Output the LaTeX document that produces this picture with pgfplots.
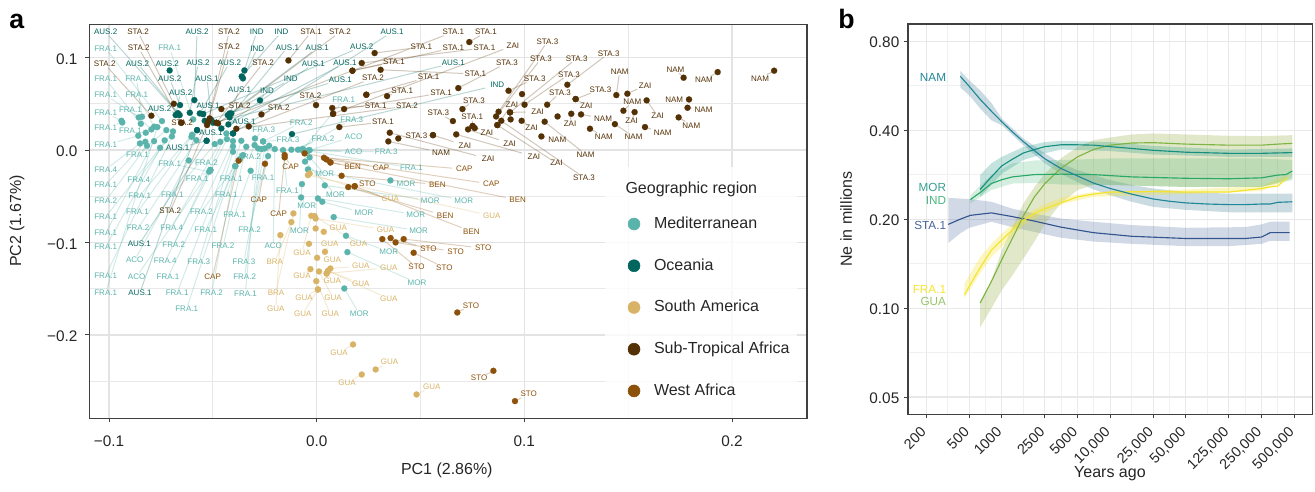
\documentclass[border=0pt]{standalone}
\usepackage{pgfplots}
\usepackage{pgfplotstable}
\usepackage{fontspec}
\setmainfont{Liberation Sans}
\pgfplotsset{compat=1.18}
\definecolor{cMed}{HTML}{5AB4AC}
\definecolor{cOce}{HTML}{01665E}
\definecolor{cSA}{HTML}{D8B365}
\definecolor{cSub}{HTML}{543005}
\definecolor{cWest}{HTML}{8C510A}
\definecolor{cNAM}{HTML}{1F8798}
\definecolor{cNAMb}{HTML}{5E8FA6}
\definecolor{cMOR}{HTML}{158F7E}
\definecolor{cIND}{HTML}{2AA866}
\definecolor{cGUA}{HTML}{7DB544}
\definecolor{cGUAb}{HTML}{9DB34F}
\definecolor{cFRA}{HTML}{F5E42F}
\definecolor{cSTA}{HTML}{33548F}
\definecolor{spine}{HTML}{404040}

\pgfplotstableread{
x y lx ly name
-.0745 .0314 -.1016 .1100 FRA.1
-.0847 .0285 -.1016 .0768 FRA.1
-.0857 .0354 -.1016 .0595 FRA.1
-.0940 .0317 -.1016 .0404 FRA.1
-.0936 .0299 -.1016 .0238 FRA.1
-.0859 .0155 -.1016 .0054 FRA.1
-.0851 .0072 -.1016 -.0209 FRA.4
-.0825 .0090 -.1016 -.0375 FRA.1
-.0817 .0047 -.1016 -.0548 FRA.2
-.0754 .0025 -.1016 -.0722 FRA.1
-.0783 .0097 -.1016 -.0898 FRA.1
-.0732 .0105 -.1016 -.1050 FRA.1
-.0697 .0148 -.1016 -.1360 FRA.1
-.0767 .0249 -.1016 -.1540 FRA.1
-.0841 .0361 -.0867 .0768 FRA.1
-.0783 .0253 -.0866 .0599 FRA.1
-.0796 .0224 -.0897 .0437 FRA.1
-.0823 .0188 -.0897 .0206 FRA.1
-.0724 .0216 -.0863 -.0047 FRA.1
-.0692 .0202 -.0857 -.0317 FRA.4
-.0600 .0166 -.0852 -.0491 FRA.1
-.0603 .0144 -.0863 -.0671 FRA.1
-.0579 .0108 -.0860 -.0844 FRA.2
-.0616 -.0112 -.0876 -.1190 ACO
-.0512 -.0216 -.0867 -.1367 ACO
-.0595 .0332 -.0708 .1104 FRA.1
-.0518 -.0234 -.0708 -.0144 FRA.1
-.0491 .0065 -.0695 -.0487 FRA.1
-.0464 .0090 -.0698 -.0837 FRA.4
-.0435 .0180 -.0688 -.1025 FRA.2
-.0432 .0119 -.0729 -.1198 FRA.4
-.0403 .0097 -.0716 -.1374 FRA.1
-.0403 .0040 -.0672 -.1544 FRA.1
-.0363 .0101 -.0626 -.1717 FRA.1
-.0403 -.0018 -.0568 -.1205 FRA.3
-.0355 -.0054 -.0555 -.0667 FRA.2
-.0371 -.0101 -.0534 -.0862 FRA.1
-.0512 -.0216 -.0531 -.0137 FRA.2
-.0392 -.0173 -.0506 -.1544 FRA.2
-.0512 -.0216 -.0575 -.0307 FRA.1
-.0392 -.0173 -.0411 -.0307 FRA.1
-.0371 -.0101 -.0435 -.0487 FRA.1
-.0339 .0036 -.0451 -.1039 FRA.2
-.0318 -.0224 -.0395 -.0696 FRA.1
-.0234 -.0065 -.0258 -.0303 FRA.1
-.0299 .0054 -.0323 -.0072 FRA.2
-.0282 .0018 -.0343 -.1551 FRA.1
-.0266 .0011 -.0347 -.1374 FRA.2
-.0250 .0018 -.0350 -.1205 FRA.3
-.0229 .0047 -.0323 -.0862 FRA.2
-.0202 .0011 -.0209 -.1035 ACO
-.0162 .0000 -.0141 -.0437 FRA.1
-.0297 .0126 -.0255 .0224 FRA.3
-.0258 .0094 -.0138 .0112 FRA.3
-.0258 .0094 -.0074 .0296 FRA.2
-.0122 .0004 .0030 .0123 FRA.2
-.0090 .0004 .0169 .0328 FRA.3
-.0066 .0011 .0130 .0545 FRA.1
-.0042 -.0007 .0178 .0148 ACO
-.0034 .0000 .0178 -.0022 ACO
-.0074 .0004 .0335 -.0022 FRA.3
-.0042 -.0007 .0456 -.0191 FRA.1
-.0034 -.0079 .0039 -.0260 MOR
-.0056 -.0124 .0091 -.0483 MOR
-.0075 -.0512 -.0048 -.0606 MOR
-.0071 -.0368 -.0083 -.0869 MOR
.0027 -.0559 .0228 -.0678 MOR
.0355 -.0328 .0430 -.0368 MOR
.0039 -.0382 .0547 -.0545 MOR
-.0042 -.0209 .0708 -.0545 MOR
.0006 -.0523 .0477 -.0700 MOR
.0082 -.0725 .0491 -.0873 MOR
.0141 -.0927 .0347 -.1100 MOR
.0148 -.1104 .0483 -.1436 MOR
.0133 -.1497 .0205 -.1771 MOR
}\medtab

\pgfplotstableread{
x y lx ly name
-.0668 .0397 -.1016 .1277 AUS.2
-.0660 .0379 -.0863 .0938 AUS.2
-.0708 .0862 -.0719 .0931 AUS.2
-.0658 .0487 -.0708 .0772 AUS.2
-.0679 .0379 -.0655 .0620 AUS.2
-.0668 .0397 -.0756 .0451 AUS.2
-.0589 .0541 -.0576 .1277 AUS.2
-.0611 .0404 -.0571 .0942 AUS.2
-.0563 .0397 -.0420 .0942 AUS.2
-.0547 .0390 .0217 .1118 AUS.2
-.0348 .0862 -.0289 .1277 IND
-.0361 .0797 -.0169 .1277 IND
-.0355 .0776 -.0286 .1100 IND
-.0411 .0397 -.0125 .0768 IND
-.0273 .0538 -.0239 .0642 IND
-.0119 .0173 .0870 .0703 IND
-.0403 .0180 .0363 .1277 AUS.1
-.0419 .0354 -.0141 .1111 AUS.1
-.0428 .0379 .0003 .1104 AUS.1
-.0459 .0234 -.0016 .0931 AUS.1
-.0425 .0278 .0136 .0942 AUS.1
-.0539 .0317 .0114 .0761 AUS.1
-.0499 .0296 .0658 .0942 AUS.1
-.0507 .0325 -.0528 .0776 AUS.1
-.0419 .0397 -.0371 .0653 AUS.1
-.0547 .0390 -.0523 .0476 AUS.1
-.0403 .0180 -.0350 .0307 AUS.1
-.0576 .0216 -.0509 .0184 AUS.1
-.0530 .0101 -.0669 .0022 AUS.1
-.0530 .0101 -.0854 -.1017 AUS.1
-.0576 .0216 -.0851 -.1544 AUS.1
}\ocetab

\pgfplotstableread{
x y lx ly name
-.0034 -.0253 .0355 -.0530 GUA
-.0042 -.0271 .0843 -.0711 GUA
-.0112 -.0685 -.0196 -.1540 BRA
-.0122 -.0779 -.0202 -.1212 BRA
-.0175 -.0920 -.0197 -.1721 GUA
-.0026 -.0711 -.0071 -.1115 GUA
-.0010 -.0714 .0201 -.1017 GUA
-.0005 -.0740 .0332 -.0862 GUA
-.0005 -.0848 -.0005 -.0848 {}
.0034 -.0884 .0104 -.0841 GUA
-.0037 -.1014 -.0037 -.1014 {}
.0040 -.1100 .0063 -.1017 GUA
.0002 -.1165 .0075 -.1190 GUA
-.0030 -.1288 -.0071 -.1364 GUA
.0011 -.1313 .0079 -.1602 GUA
.0066 -.1281 .0213 -.1255 GUA
.0055 -.1306 .0213 -.1443 GUA
.0048 -.1335 .0075 -.1418 GUA
.0055 -.1306 .0347 -.1609 GUA
.0048 -.1335 .0347 -.1273 GUA
-.0002 -.1418 .0066 -.1775 GUA
.0006 -.1508 -.0061 -.1595 GUA
.0006 -.1508 -.0067 -.1768 GUA
.0175 -.2103 .0108 -.2193 GUA
.0284 -.2374 .0351 -.2294 GUA
.0217 -.2428 .0146 -.2514 GUA
.0481 -.2644 .0554 -.2561 GUA
}\satab

\pgfplotstableread{
x y lx ly name
-.0688 .0501 -.0860 .1277 STA.2
-.0652 .0296 -.0857 .1104 STA.2
-.0796 .0372 -.1021 .0931 STA.2
-.0515 .0343 -.0705 -.0660 STA.2
-.0652 .0296 -.0648 .0292 STA.2
-.0523 .0307 -.0422 .1277 STA.2
-.0528 .0271 -.0422 .1115 STA.2
-.0483 .0296 -.0258 .0942 STA.2
-.0475 .0289 .0112 .1277 STA.2
-.0459 .0444 -.0371 .0476 STA.2
-.0266 .0386 -.0183 .0462 STA.2
-.0003 .0487 -.0030 .0588 STA.2
-.0327 .0256 .0271 .0779 STA.2
-.0387 .0231 .0435 .0476 STA.2
-.0136 .0970 -.0027 .1277 STA.1
-.0483 .0296 .0658 .1277 STA.1
.0735 .1169 .0815 .1277 STA.1
.0279 .1050 .0504 .1115 STA.1
.0172 .0859 .0658 .1107 STA.1
.0217 .0942 .0808 .1107 STA.1
.0172 .0859 .0372 .0952 STA.1
.0239 .0599 .0539 .0790 STA.1
.0308 .0869 .0764 .0823 STA.1
.0339 .0584 .0412 .0642 STA.1
.0132 .0444 .0599 .0617 STA.1
.0075 .0455 .0284 .0480 STA.1
.0079 .0393 .0079 .0393 {}
.0109 .0249 .0319 .0303 STA.1
.0751 .0260 .0749 .0357 STA.1
.0876 .0415 .1111 .1172 STA.3
.0864 .0364 .1080 .0988 STA.3
.0931 .0408 .1252 .0992 STA.3
.1207 .0707 .1406 .1046 STA.3
.1001 .0491 .1215 .0819 STA.3
.0682 .0671 .0916 .0942 STA.3
.0924 .0642 .1050 .0772 STA.3
.0702 .0444 .0757 .0534 STA.3
.0656 .0314 .0586 .0400 STA.3
.1110 .0491 .1172 .0620 STA.3
.1247 .0552 .1367 .0657 STA.3
.0560 .0162 .0481 .0152 STA.3
.0889 .0317 .1287 -.0296 STA.3
.0870 .0271 .0940 .0494 ZAI
.0931 .0408 .1064 .0415 ZAI
.0079 .0393 .0945 .1129 ZAI
.1247 .0552 .1298 .0480 ZAI
.1226 .0393 .1220 .0289 ZAI
.0987 .0317 .1035 .0245 ZAI
.0751 .0260 .0820 .0188 ZAI
.0729 .0224 .0929 .0072 ZAI
.0560 .0162 .0714 .0051 ZAI
.0352 .0188 .0826 -.0094 ZAI
.0672 .0170 .1046 -.0069 ZAI
.0870 .0271 .1155 -.0141 ZAI
.1496 .0610 .1582 .0700 ZAI
.1589 .0538 .1642 .0368 ZAI
.1531 .0411 .1517 .0317 ZAI
.1443 .0595 .1459 .0848 NAM
.1767 .0783 .1728 .0873 NAM
.1931 .0844 .1865 .0758 NAM
.2203 .0859 .2135 .0776 NAM
.1477 .0426 .1520 .0523 NAM
.1793 .0548 .1722 .0541 NAM
.1786 .0458 .1863 .0437 NAM
.1743 .0354 .1804 .0267 NAM
.1581 .0249 .1666 .0188 NAM
.1436 .0281 .1526 .0144 NAM
.1273 .0386 .1379 .0343 NAM
.1316 .0231 .1383 .0148 NAM
.1082 .0148 .1159 .0108 NAM
.1098 .0307 .1295 -.0047 NAM
.0345 .0094 .0599 -.0025 NAM
.1160 .0364 .1160 .0364 {}
.0989 .0606 .0989 .0606 {}
.0934 .0332 .0934 .0332 {}
.0761 .0238 .0761 .0238 {}
.0393 .0126 .0393 .0126 {}
.0239 .0599 .0239 .0599 {}
}\subtab

\pgfplotstableread{
x y lx ly name
-.0154 -.0054 -.0125 -.0180 CAP
-.0249 -.0148 -.0279 -.0534 CAP
-.0154 -.0079 -.0183 -.0693 CAP
-.0376 -.0115 -.0501 -.1371 CAP
-.0058 -.0036 .0310 -.0191 CAP
.0035 -.0083 .0711 -.0206 CAP
.0047 -.0101 .0841 -.0368 CAP
.0066 -.0133 .0173 -.0184 BEN
.0120 -.0278 .0581 -.0372 BEN
.0066 -.0133 .0968 -.0538 BEN
.0152 -.0400 .0619 -.0711 BEN
.0183 -.0391 .0745 -.0880 BEN
.0183 -.0391 .0244 -.0361 STO
.0419 -.0963 .0802 -.1061 STO
.0380 -.0999 .0669 -.1100 STO
.0356 -.0952 .0538 -.1068 STO
.0316 -.0963 .0481 -.1266 STO
.0467 -.1111 .0615 -.1270 STO
.0677 -.1757 .0743 -.1681 STO
.0851 -.2388 .0782 -.2468 STO
.0955 -.2716 .1021 -.2641 STO
}\westab

\def\F{max(0,1-min(0.0058/max(abs(\thisrow{lx}-\thisrow{x}),0.0001),0.0040/max(abs(\thisrow{ly}-\thisrow{y}),0.0001)))}
\pgfplotsset{
  seg/.style={forget plot, draw=#1, draw opacity=.27, line width=.75pt,
    quiver={u={(\thisrow{lx}-\thisrow{x})*\F}, v={(\thisrow{ly}-\thisrow{y})*\F}}},
  pts/.style={forget plot, only marks, mark=*, mark size=2.3pt, color=#1, mark options={fill=#1, draw=#1, line width=.1pt}},
  lbl/.style={forget plot, only marks, mark=none, nodes near coords, point meta=explicit symbolic,
    every node near coord/.style={anchor=center, inner sep=0pt, text=#1, font=\fontsize{6}{6}\selectfont}},
}

\begin{document}
\begin{tikzpicture}
\path[use as bounding box] (0,0) rectangle (986.25pt,369pt);

\begin{axis}[
  at={(67.125pt,55.125pt)}, anchor=south west, scale only axis,
  width=538.1pt, height=295.5pt,
  xmin=-0.1094, xmax=0.2361, ymin=-0.2904, ymax=0.1359,
  xtick={-0.1,0,0.1,0.2}, xticklabels={−0.1,0.0,0.1,0.2},
  ytick={-0.2,-0.1,0,0.1}, yticklabels={−0.2,−0.1,0.0,0.1},
  minor xtick={-0.05,0.05,0.15}, minor ytick={-0.25,-0.15,-0.05,0.05},
  grid=both,
  major grid style={draw=black!11, line width=.95pt},
  minor grid style={draw=black!9, line width=.65pt},
  minor tick length=0pt, major tick length=3pt,
  tick align=outside, xtick pos=bottom, ytick pos=left,
  tick style={draw=spine, line width=.75pt},
  axis line style={draw=spine, line width=.9pt},
  ticklabel style={font=\fontsize{11.5}{12}\selectfont, text=black!85},
  xticklabel style={yshift=-6.5pt},
  yticklabel style={xshift=-2.5pt, yshift=-1pt},
  scaled ticks=false,
  xlabel={PC1 (2.86\%)}, ylabel={PC2 (1.67\%)},
  every axis x label/.style={at={(axis description cs:0.498,-0.1325)}, anchor=center, font=\fontsize{12}{13}\selectfont, text=black!85},
  every axis y label/.style={at={(axis description cs:-0.101,0.501)}, anchor=center, rotate=90, font=\fontsize{12}{13}\selectfont, text=black!85},
  legend cell align=left,
  legend style={at={(axis cs:.1498,-.0685)}, anchor=north west, draw=none, fill=none, inner sep=0pt,
    font=\fontsize{12}{13}\selectfont, text=black!85, row sep=15.8pt,
    nodes={text height=9pt, text depth=2.5pt},
    /tikz/every odd column/.append style={column sep=8.5pt}},
]
\addlegendimage{only marks, mark=*, mark size=4.5pt, color=cMed}\addlegendentry{Mediterranean}
\addlegendimage{only marks, mark=*, mark size=4.5pt, color=cOce}\addlegendentry{Oceania}
\addlegendimage{only marks, mark=*, mark size=4.5pt, color=cSA}\addlegendentry{South America}
\addlegendimage{only marks, mark=*, mark size=4.5pt, color=cSub}\addlegendentry{Sub-Tropical Africa}
\addlegendimage{only marks, mark=*, mark size=4.5pt, color=cWest}\addlegendentry{West Africa}

\addplot[seg=cMed] table[x=x,y=y]{\medtab};
\addplot[seg=cOce] table[x=x,y=y]{\ocetab};
\addplot[seg=cSA] table[x=x,y=y]{\satab};
\addplot[seg=cSub] table[x=x,y=y]{\subtab};
\addplot[seg=cWest] table[x=x,y=y]{\westab};
\addplot[pts=cMed] table[x=x,y=y]{\medtab};
\addplot[pts=cSA] table[x=x,y=y]{\satab};
\addplot[pts=cWest] table[x=x,y=y]{\westab};
\addplot[pts=cOce] table[x=x,y=y]{\ocetab};
\addplot[pts=cSub] table[x=x,y=y]{\subtab};
\addplot[lbl=cMed] table[x=lx,y=ly,meta=name]{\medtab};
\addplot[lbl=cSA] table[x=lx,y=ly,meta=name]{\satab};
\addplot[lbl=cWest] table[x=lx,y=ly,meta=name]{\westab};
\addplot[lbl=cOce] table[x=lx,y=ly,meta=name]{\ocetab};
\addplot[lbl=cSub] table[x=lx,y=ly,meta=name]{\subtab};
\fill[white, opacity=.8] (axis cs:.1387,-.0184) rectangle (axis cs:.2311,-.2904);
\node[anchor=west, inner sep=0pt, font=\fontsize{12}{13}\selectfont, text=black!85] at (axis cs:.1486,-.0422) {Geographic region};
\end{axis}

\begin{axis}[
  at={(681pt,58.275pt)}, anchor=south west, scale only axis,
  width=303.5pt, height=292.7pt,
  xmode=log, ymode=log, log basis x=10, log basis y=10,
  xmin=136, xmax=741000, ymin=0.0437, ymax=0.915,
  xtick={200,500,1000,2500,5000,10000,25000,50000,125000,250000,500000},
  xticklabels={200,500,1000,2500,5000,{10,000},{25,000},{50,000},{125,000},{250,000},{500,000}},
  ytick={0.05,0.1,0.2,0.4,0.8}, yticklabels={0.05,0.10,0.20,0.40,0.80},
  minor xtick={316,707,1581,3536,7071,15811,35355,79057,176777,353553},
  minor ytick={0.0707,0.1414,0.2828,0.5657},
  grid=both,
  major grid style={draw=black!9, line width=.8pt},
  minor grid style={draw=black!6, line width=.6pt},
  minor tick length=0pt, major tick length=3pt,
  tick align=outside, xtick pos=bottom, ytick pos=left,
  tick style={draw=spine, line width=.75pt},
  axis line style={draw=spine, line width=.9pt},
  ticklabel style={font=\fontsize{11.5}{12}\selectfont, text=black!85},
  xticklabel style={rotate=45, anchor=north east, inner sep=0pt, xshift=-7.4pt, yshift=-.6pt, font=\fontsize{10.8}{12}\selectfont},
  yticklabel style={yshift=-.7pt},
  xlabel={Years ago}, ylabel={Ne in millions},
  every axis x label/.style={at={(axis description cs:0.499,-0.153)}, anchor=center, font=\fontsize{12}{13}\selectfont, text=black!85},
  every axis y label/.style={at={(axis description cs:-0.153,0.5)}, anchor=center, rotate=90, font=\fontsize{12}{13}\selectfont, text=black!85},
]
% STA.1 band
\addplot[fill=cSTA, fill opacity=.22, draw=none, forget plot] coordinates {
(320,.236)(500,.234)(800,.229)(1250,.217)(2000,.209)(3500,.201)(7000,.196)(15800,.191)(50000,.187)(177000,.188)(250000,.192)(300000,.196)(453000,.196)
(453000,.169)(300000,.169)(250000,.165)(125000,.162)(50000,.162)(15800,.165)(7000,.168)(3500,.173)(2000,.181)(1250,.188)(800,.196)(500,.187)(413,.179)(320,.166)} -- cycle;
% NAM band
\addplot[fill=cNAMb, fill opacity=.32, draw=none, forget plot] coordinates {
(413,.635)(500,.590)(630,.546)(800,.495)(1000,.438)(1580,.375)(2500,.334)(3500,.309)(5000,.293)(7000,.282)(10000,.271)(15800,.261)(25000,.254)(50000,.247)(125000,.244)(250000,.244)(480000,.244)
(480000,.211)(250000,.211)(125000,.211)(50000,.215)(25000,.220)(15800,.229)(10000,.241)(7000,.252)(5000,.267)(3500,.285)(2500,.309)(1580,.356)(1000,.416)(800,.432)(630,.474)(500,.525)(413,.558)} -- cycle;
% GUA band
\addplot[fill=cGUAb, fill opacity=.3, draw=none, forget plot] coordinates {
(630,.105)(800,.124)(1000,.157)(1250,.188)(1580,.226)(2000,.257)(2500,.285)(3500,.321)(5000,.351)(7000,.370)(10000,.378)(15800,.387)(25000,.390)(50000,.387)(125000,.383)(250000,.382)(480000,.385)
(480000,.275)(250000,.257)(50000,.257)(10000,.261)(7000,.261)(5000,.251)(3500,.226)(2500,.193)(2000,.168)(1580,.147)(1250,.129)(1000,.115)(800,.0997)(630,.086)} -- cycle;
% FRA band
\addplot[fill=cFRA, fill opacity=.3, draw=none, forget plot] coordinates {
(451,.121)(630,.149)(800,.165)(1000,.179)(1580,.206)(2500,.225)(3770,.238)(7000,.247)(50000,.252)(250000,.259)(430000,.282)
(430000,.271)(250000,.249)(50000,.243)(7000,.238)(3770,.226)(2500,.210)(1580,.191)(1000,.161)(800,.149)(630,.131)(451,.108)} -- cycle;
% IND band
\addplot[fill=cIND, fill opacity=.2, draw=none, forget plot] coordinates {
(512,.241)(800,.282)(1250,.309)(2000,.316)(3500,.317)(10000,.321)(50000,.321)(250000,.321)(480000,.317)
(480000,.271)(250000,.257)(50000,.257)(10000,.261)(3500,.262)(2000,.265)(1250,.264)(800,.251)(512,.226)} -- cycle;
% MOR band
\addplot[fill=cMOR, fill opacity=.25, draw=none, forget plot] coordinates {
(630,.282)(800,.309)(1000,.325)(1580,.351)(2500,.365)(3500,.368)(10000,.365)(25000,.354)(125000,.344)(480000,.347)
(480000,.325)(125000,.325)(25000,.331)(10000,.340)(3500,.344)(2500,.334)(1580,.317)(1000,.285)(800,.261)(630,.238)} -- cycle;
% lines
\addplot[draw=cSTA, line width=.85pt, forget plot] coordinates {
(320,.192)(413,.200)(512,.206)(800,.210)(1250,.204)(2000,.197)(3500,.188)(7000,.180)(15800,.175)(50000,.172)(125000,.172)(177000,.172)(250000,.174)(300000,.180)(453000,.180)};
\addplot[draw=cFRA, line width=.9pt, forget plot] coordinates {
(451,.111)(630,.137)(800,.157)(1000,.170)(1250,.184)(1580,.198)(2000,.209)(2500,.217)(3500,.227)(5000,.238)(7000,.243)(10000,.247)(25000,.248)(50000,.247)(125000,.247)(250000,.254)(300000,.257)(354000,.259)(430000,.276)};
\addplot[draw=cGUA, line width=.85pt, forget plot] coordinates {
(630,.104)(800,.123)(1000,.146)(1250,.172)(1580,.205)(2000,.238)(2500,.264)(3500,.297)(5000,.325)(7000,.344)(10000,.356)(15800,.362)(25000,.363)(50000,.359)(125000,.356)(250000,.356)(354000,.359)(480000,.361)};
\addplot[draw=cIND, line width=.85pt, forget plot] coordinates {
(512,.233)(630,.246)(800,.264)(1000,.272)(1250,.278)(2000,.283)(3500,.284)(7000,.283)(15800,.278)(50000,.275)(125000,.274)(250000,.276)(354000,.282)(420000,.283)(480000,.291)};
\addplot[draw=cMOR, line width=.85pt, forget plot] coordinates {
(630,.252)(800,.278)(1000,.303)(1250,.319)(1580,.335)(2000,.344)(2500,.352)(3500,.357)(5000,.357)(7000,.356)(10000,.352)(15800,.347)(25000,.342)(50000,.337)(125000,.334)(250000,.334)(480000,.336)};
\addplot[draw=cNAM, line width=.85pt, forget plot] coordinates {
(413,.609)(500,.563)(630,.509)(800,.464)(1000,.427)(1250,.395)(1580,.366)(2000,.341)(2500,.320)(3500,.297)(5000,.280)(7000,.265)(10000,.254)(15800,.243)(25000,.234)(35000,.230)(50000,.227)(79000,.225)(125000,.224)(177000,.224)(250000,.225)(300000,.225)(354000,.228)(480000,.229)};
\tikzset{rl/.style={anchor=east, inner sep=0pt, font=\fontsize{8.8}{9}\selectfont}}
\node[rl, text=cNAM] at (axis cs:307,.604) {NAM};
\node[rl, text=cMOR!85] at (axis cs:307,.257) {MOR};
\node[rl, text=cIND!85] at (axis cs:307,.232) {IND};
\node[rl, text=cSTA!90] at (axis cs:307,.191) {STA.1};
\node[rl, text=cFRA] at (axis cs:307,.116) {FRA.1};
\node[rl, text=cGUA!80] at (axis cs:307,.105) {GUA};
\end{axis}

\node[anchor=base west, inner sep=0pt, font=\fontsize{20}{20}\selectfont\bfseries] at (6.75pt,347.25pt) {a};
\node[anchor=base west, inner sep=0pt, font=\fontsize{20}{20}\selectfont\bfseries] at (628.5pt,347.25pt) {b};
\end{tikzpicture}
\end{document}
